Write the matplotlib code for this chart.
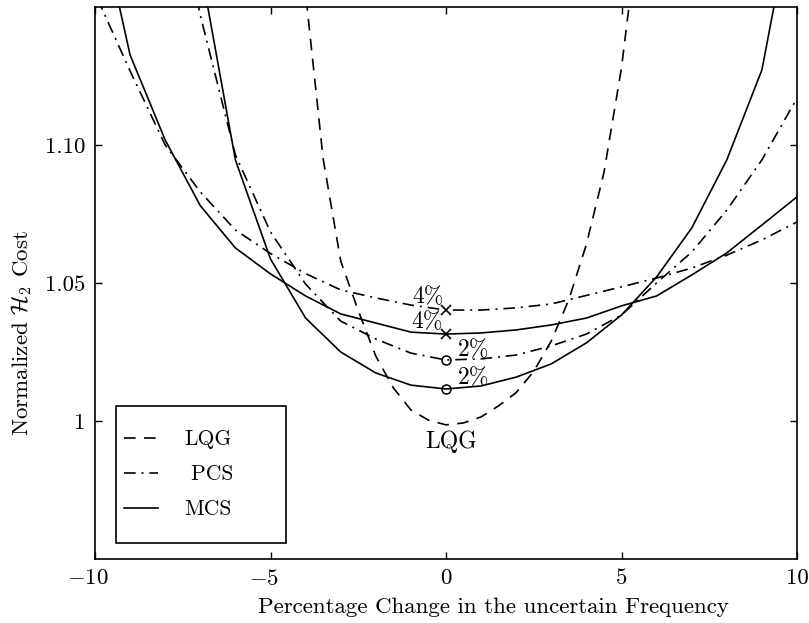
import numpy as np
import matplotlib
matplotlib.use("Agg")
import matplotlib.pyplot as plt
import matplotlib.transforms as mtransforms
from matplotlib.patches import Rectangle

plt.rcParams['font.family'] = 'serif'
plt.rcParams['font.serif'] = ['cmr10', 'DejaVu Serif']
plt.rcParams['mathtext.fontset'] = 'cm'
plt.rcParams['axes.formatter.use_mathtext'] = True

# porcentaje de cambio en la frecuencia incierta
freq = np.arange(-10, 11)
freq_lqg = np.arange(-4, 6, 0.5)

# costo H2 normalizado, nan = fuera de rango
lqg = [1.155, 1.095, 1.058, 1.040, 1.0235, 1.012, 1.004, 1.0003, 0.9986, 0.9993,
       1.0015, 1.0055, 1.0103, 1.018, 1.029, 1.044, 1.064, 1.090, 1.128, 1.18]
pcs_2 = [np.nan, np.nan, 1.21, 1.147, 1.0964, 1.0685, 1.0496, 1.0362, 1.0297, 1.0246, 1.0221,
         1.0225, 1.0239, 1.0272, 1.0315, 1.0384, 1.050, 1.0612, 1.0764, 1.0946, 1.117]
pcs_4 = [1.155, 1.1268, 1.100, 1.083, 1.0692, 1.0607, 1.0534, 1.0475, 1.0446, 1.042, 1.0402,
         1.0402, 1.041, 1.0424, 1.0455, 1.0486, 1.0518, 1.0554, 1.0601, 1.0656, 1.0721]
mcs_2 = [np.nan, np.nan, 1.25, 1.165, 1.0946, 1.0587, 1.0373, 1.025, 1.0174, 1.013, 1.0116,
         1.0127, 1.0159, 1.0207, 1.0283, 1.0384, 1.0522, 1.0699, 1.0946, 1.1272, 1.194]
mcs_4 = [1.19, 1.1326, 1.1018, 1.078, 1.0627, 1.0533, 1.0453, 1.0388, 1.0355, 1.0322, 1.0315,
         1.0319, 1.033, 1.0348, 1.0373, 1.0417, 1.0453, 1.0529, 1.0609, 1.071, 1.0812]

fig = plt.figure(figsize=(8.09, 6.23), dpi=100)
ax = fig.add_axes([95 / 809, 64 / 623, 702 / 809, 552 / 623])

lw = 1.2
dash = (0, (7, 5))
dashdot = (0, (7, 3.5, 1.2, 3.5))

ax.plot(freq_lqg, lqg, color='black', lw=lw, linestyle=dash, label='LQG')
ax.plot(freq, pcs_2, color='black', lw=lw, linestyle=dashdot, label=' PCS')
ax.plot(freq, pcs_4, color='black', lw=lw, linestyle=dashdot)
ax.plot(freq, mcs_2, color='black', lw=lw, linestyle='-', label='MCS')
ax.plot(freq, mcs_4, color='black', lw=lw, linestyle='-')

# marcadores en 0 %
i0 = list(freq).index(0)
j0 = list(freq_lqg).index(0)
ax.plot(0, pcs_4[i0], marker='x', color='black', ms=7, mew=1.2)
ax.plot(0, mcs_4[i0], marker='x', color='black', ms=7, mew=1.2)
ax.plot(0, pcs_2[i0], marker='o', color='black', ms=6.5, mfc='none', mew=1.1)
ax.plot(0, mcs_2[i0], marker='o', color='black', ms=6.5, mfc='none', mew=1.1)

fs = 16.5
fa = 17
ax.annotate('4%', (0, pcs_4[i0]), xytext=(-13, 9.4), textcoords='offset points',
            ha='center', va='center', fontsize=fa)
ax.annotate('4%', (0, mcs_4[i0]), xytext=(-13.7, 8.6), textcoords='offset points',
            ha='center', va='center', fontsize=fa)
ax.annotate('2%', (0, pcs_2[i0]), xytext=(20, 7.2), textcoords='offset points',
            ha='center', va='center', fontsize=fa)
ax.annotate('2%', (0, mcs_2[i0]), xytext=(20, 8), textcoords='offset points',
            ha='center', va='center', fontsize=fa)
ax.annotate('LQG', (0, lqg[j0]), xytext=(3.6, -12), textcoords='offset points',
            ha='center', va='center', fontsize=fa)

ax.set_xlim(-10, 10)
ax.set_ylim(0.95, 1.15)
ax.set_xticks([-10, -5, 0, 5, 10])
ax.set_xticklabels([r'$-10$', r'$-5$', '0', '5', '10'])
ax.set_yticks([1.0, 1.05, 1.10])
ax.set_yticklabels(['1', '1.05', '1.10'])
ax.tick_params(direction='in', top=True, right=True, length=5, width=1,
               labelsize=fs, pad=7)
for s in ax.spines.values():
    s.set_linewidth(1.2)

# los numeros negativos quedan centrados en la cifra, el signo cuelga a la izquierda
shift = mtransforms.ScaledTranslation(-5 / 72, 0, fig.dpi_scale_trans)
for lbl in ax.get_xticklabels()[:2]:
    lbl.set_transform(lbl.get_transform() + shift)

ax.set_xlabel('Percentage Change in the uncertain Frequency', fontsize=fs, labelpad=6)
ax.set_ylabel(r'Normalized $\mathcal{H}_2$ Cost', fontsize=fs, labelpad=8)
ax.xaxis.label.set_x(0.568)
ax.yaxis.label.set_y(0.41)

# caja de la leyenda
box = (0.03, 0.029, 0.242, 0.248)
ax.add_patch(Rectangle(box[:2], box[2], box[3], transform=ax.transAxes,
                       facecolor='white', edgecolor='black', lw=1.2, zorder=4))
leg = ax.legend(loc='center left', bbox_to_anchor=(box[0], box[1] + box[3] / 2),
                borderaxespad=0, fontsize=15.5, handlelength=1.6, handletextpad=1.2,
                labelspacing=0.72, borderpad=0.35, frameon=False)
leg.set_zorder(5)

fig.savefig('out.png', dpi=100)
